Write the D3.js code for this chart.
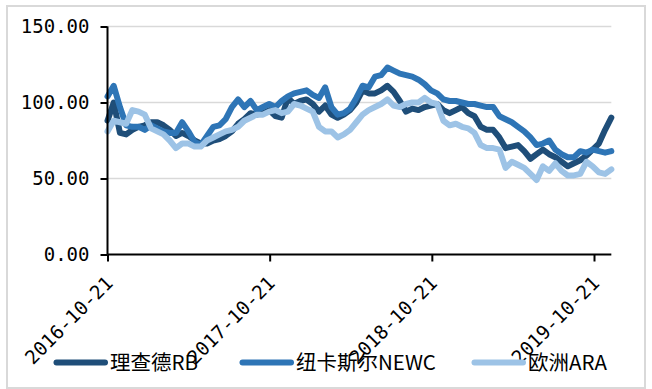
<!DOCTYPE html>
<html>
<head>
<meta charset="utf-8">
<script src="https://cdn.jsdelivr.net/npm/d3@7"></script>
<style>
  body { margin: 0; background: #fff; }
  svg { display: block; }
</style>
</head>
<body>
<svg id="chart" width="652" height="389"></svg>
<script>
// sampled every 14 days from the first date
var startDate = "2016-10-21",
  stepDays = 14;

var seriesNames = ["理查德RB", "纽卡斯尔NEWC", "欧洲ARA"];
var seriesColors = ["#1f4e79", "#2e75b6", "#9dc3e6"];

var rb = [88, 100, 80, 79, 82, 84, 85, 87, 87, 85, 82, 78, 80, 78, 75, 73, 73, 75, 76, 78,
  81, 86, 89, 93, 92, 93, 95, 91, 90, 103, 99, 101, 102, 99, 94, 98, 92, 90, 92, 95,
  100, 108, 106, 106, 108, 111, 107, 101, 94, 96, 95, 97, 98, 99, 95, 93, 95, 97, 93, 91,
  84, 82, 82, 77, 70, 71, 72, 68, 63, 66, 69, 66, 64, 61, 58, 60, 62, 65, 69, 73,
  82, 90];
var newc = [104, 111, 97, 85, 84, 84, 82, 85, 83, 81, 80, 80, 87, 81, 74, 72, 78, 84, 85, 89,
  97, 102, 97, 101, 95, 97, 99, 97, 101, 104, 106, 107, 108, 105, 103, 110, 97, 92, 93, 96,
  103, 111, 110, 117, 118, 123, 121, 119, 118, 117, 115, 112, 108, 106, 102, 101, 101, 100, 99, 99,
  98, 97, 97, 91, 89, 87, 84, 81, 77, 72, 73, 75, 69, 66, 64, 64, 68, 67, 69, 68,
  67, 68];
var ara = [81, 88, 87, 86, 95, 94, 92, 83, 81, 79, 75, 70, 73, 73, 71, 71, 75, 77, 79, 81,
  82, 84, 88, 90, 92, 92, 94, 95, 93, 94, 99, 98, 96, 94, 84, 81, 81, 77, 79, 82,
  87, 92, 95, 97, 99, 102, 98, 97, 99, 100, 100, 103, 100, 99, 88, 85, 86, 84, 83, 80,
  72, 70, 70, 69, 57, 61, 59, 57, 53, 49, 58, 55, 60, 55, 52, 52, 53, 61, 58, 54,
  53, 56];

var yTicks = [0, 50, 100, 150];
var xTickLabels = ["2016-10-21", "2017-10-21", "2018-10-21", "2019-10-21"];

var svg = d3.select("#chart"),
  margin = { top: 26.5, right: 40, bottom: 134.5, left: 107.5 },
  width = +svg.attr("width") - margin.left - margin.right,
  height = +svg.attr("height") - margin.top - margin.bottom;

var parseDate = d3.timeParse("%Y-%m-%d");
var t0 = parseDate(startDate);
var dates = rb.map(function (d, i) { return d3.timeDay.offset(t0, i * stepDays); });

var x = d3.scaleTime()
  .domain([parseDate("2016-10-21"), parseDate("2019-10-21")])
  .range([0, 486.5]);
var y = d3.scaleLinear().domain([0, 150]).range([height, 0]);

// outer frame
svg.append("rect")
  .attr("x", 7).attr("y", 6)
  .attr("width", 638).attr("height", 382)
  .attr("fill", "none")
  .attr("stroke", "#d9d9d9")
  .attr("stroke-width", 2);

var g = svg.append("g")
  .attr("transform", "translate(" + margin.left + "," + margin.top + ")");

var xEnd = x(dates[dates.length - 1]);

// grid
g.selectAll(".grid")
  .data(yTicks.filter(function (d) { return d > 0; }))
  .enter().append("line")
  .attr("class", "grid")
  .attr("x1", 0).attr("x2", xEnd)
  .attr("y1", function (d) { return y(d); })
  .attr("y2", function (d) { return y(d); })
  .attr("stroke", "#d9d9d9")
  .attr("stroke-width", 1.5);

// series
var data = [rb, newc, ara];
var line = d3.line()
  .x(function (d, i) { return x(dates[i]); })
  .y(function (d) { return y(d); });

g.selectAll(".series")
  .data(data)
  .enter().append("path")
  .attr("class", "series")
  .attr("d", line)
  .attr("fill", "none")
  .attr("stroke", function (d, i) { return seriesColors[i]; })
  .attr("stroke-width", 6)
  .attr("stroke-linejoin", "round")
  .attr("stroke-linecap", "round");

// y axis
var yAxis = g.append("g")
  .call(d3.axisLeft(y).tickValues(yTicks).tickSize(7).tickPadding(11)
    .tickFormat(function (d) { return d3.format(".2f")(d); }));
yAxis.select(".domain").attr("stroke", "#000").attr("stroke-width", 2)
  .attr("d", "M0," + y(150) + "V" + y(0));
yAxis.selectAll(".tick line").attr("stroke", "#000").attr("stroke-width", 2);
yAxis.selectAll("text")
  .attr("font-family", "'DejaVu Sans Mono', monospace")
  .attr("font-size", 19)
  .attr("fill", "#000");

// x axis
var xAxis = g.append("g")
  .attr("transform", "translate(0," + height + ")")
  .call(d3.axisBottom(x)
    .tickValues(xTickLabels.map(parseDate))
    .tickSize(7)
    .tickFormat(d3.timeFormat("%Y-%m-%d")));
xAxis.select(".domain").attr("stroke", "#000").attr("stroke-width", 2)
  .attr("d", "M0,0H" + xEnd);
xAxis.selectAll(".tick line").attr("stroke", "#000").attr("stroke-width", 2);
xAxis.selectAll("text")
  .attr("font-family", "'DejaVu Sans Mono', monospace")
  .attr("font-size", 19)
  .attr("fill", "#000")
  .attr("y", 0).attr("dy", 0)
  .attr("text-anchor", "end")
  .attr("transform", "translate(6,30) rotate(-45)");

// legend
var legendX = [54, 240, 472];
var legend = svg.append("g").attr("transform", "translate(0,362.5)");
var items = legend.selectAll(".item")
  .data(seriesNames)
  .enter().append("g")
  .attr("class", "item")
  .attr("transform", function (d, i) { return "translate(" + legendX[i] + ",0)"; });
items.append("line")
  .attr("x1", 2.5).attr("x2", 51)
  .attr("stroke", function (d, i) { return seriesColors[i]; })
  .attr("stroke-width", 6)
  .attr("stroke-linecap", "round");
items.append("text")
  .attr("x", 56)
  .attr("dy", "0.36em")
  .attr("font-family", "'Noto Sans CJK SC', 'Noto Sans', sans-serif")
  .attr("font-size", 20.5)
  .attr("fill", "#000")
  .text(function (d) { return d; });
</script>
</body>
</html>
